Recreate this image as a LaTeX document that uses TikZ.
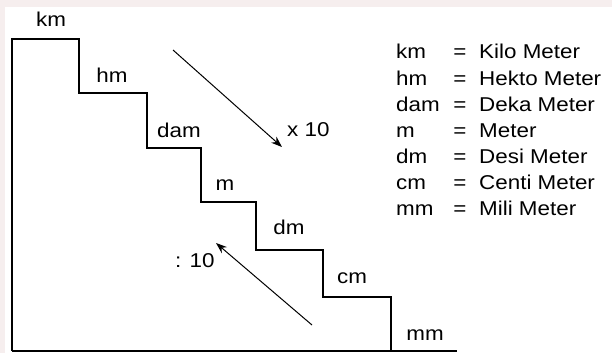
\documentclass[tikz,border=0pt]{standalone}
\usepackage{fontspec}
\setmainfont{Liberation Sans}
\usetikzlibrary{arrows.meta}
\definecolor{edgepink}{RGB}{246,238,238}
\newcommand\wide[1]{\scalebox{1.12}[1]{#1}}
\begin{document}
\begin{tikzpicture}[x=1pt,y=-1pt,line join=miter,>={Stealth[length=11pt,width=8pt]}]
	\tikzset{every node/.style={font=\fontsize{20}{24}\selectfont,inner sep=0pt},
		lbl/.style={anchor=base},
		key/.style={anchor=base west},
		stair/.style={line width=1.4pt},
		conv/.style={->,line width=1pt}}
	\useasboundingbox (0,0) rectangle (612,353);
	\fill[edgepink] (0,0) rectangle (612,7);
	\fill[edgepink] (0,0) rectangle (5,353);
	% staircase
	\draw[stair] (12,351)--(12,39)--(79,39)--(79,93)--(147,93)--(147,148)--(201,148)
		--(201,202)--(256,202)--(256,250)--(323,250)--(323,297)--(391,297)--(391,351);
	\draw[stair] (12,351)--(457,351);
	% unit labels on the steps
	\foreach \u/\x/\y in {km/51/27,hm/112/82,dam/179/137,m/225/190,dm/289/234,cm/352/283,mm/425/340}
		\node[lbl] (\u) at (\x,\y) {\wide{\u}};
	% conversion arrows
	\coordinate (downA) at (173,50);
	\coordinate (downB) at (282,147);
	\coordinate (upA) at (312,325);
	\coordinate (upB) at (216,243);
	\draw[conv] (downA)--(downB);
	\draw[conv] (upA)--(upB);
	\node[key] (times) at (287,136) {\wide{x 10}};
	\node[key] (divide) at (175,267) {\wide{: 10}};
	% legend
	\foreach \u/\name [count=\i from 0] in {km/Kilo Meter,hm/Hekto Meter,dam/Deka Meter,m/Meter,dm/Desi Meter,cm/Centi Meter,mm/Mili Meter}{
		\node[key] (k\u) at (396,59+26*\i) {\wide{\u}};
		\node[lbl] (e\u) at (460,59+26*\i) {\wide{=}};
		\node[key] (n\u) at (479,59+26*\i) {\wide{\name}};
	}
\end{tikzpicture}
\end{document}
